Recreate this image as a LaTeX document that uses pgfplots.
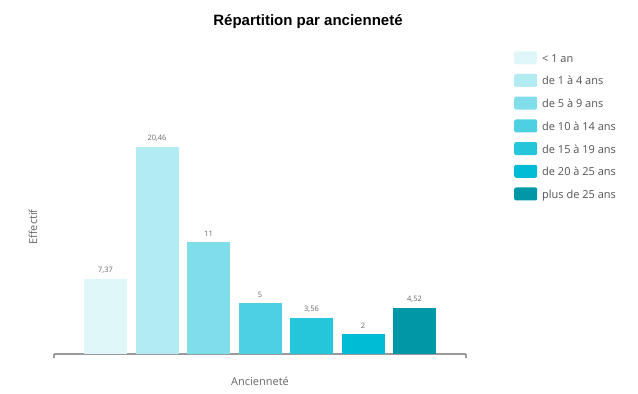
\documentclass[border=0pt]{standalone}
\usepackage{fontspec}
\setmainfont{Open Sans}
\newfontfamily\titlefont{Liberation Sans}
\usepackage{pgfplots}
\pgfplotsset{compat=1.18}
\definecolor{c1}{HTML}{E0F7FA}
\definecolor{c2}{HTML}{B2EBF2}
\definecolor{c3}{HTML}{80DEEA}
\definecolor{c4}{HTML}{4DD0E1}
\definecolor{c5}{HTML}{26C6DA}
\definecolor{c6}{HTML}{00BCD4}
\definecolor{c7}{HTML}{0097A7}
\definecolor{axgray}{HTML}{9A9A9E}
\definecolor{txtgray}{HTML}{666666}
\begin{document}
\begin{tikzpicture}[x=1pt,y=1pt]
\path (0,0) rectangle (638,394);
\node[font=\titlefont\bfseries\fontsize{15}{17}\selectfont, text=black] at (308,372) {Répartition par ancienneté};
\node[font=\fontsize{11}{13}\selectfont, text=txtgray] at (260,13) {Ancienneté};
\node[font=\fontsize{11}{13}\selectfont, text=txtgray, rotate=90] at (33,167) {Effectif};
\begin{axis}[
  at={(54pt,40pt)}, anchor=south west, scale only axis,
  width=412pt, height=220pt,
  xmin=-1, xmax=7, ymin=0, ymax=21.7, enlargelimits=false,
  ybar, bar width=43pt, bar shift=0pt,
  axis x line=bottom, axis y line=none,
  axis line style={-, axgray, line width=1.2pt},
  xtick={-1,7}, xticklabels={}, ytick=\empty,
  tick align=outside, major tick length=4pt,
  major tick style={axgray, line width=1.2pt},
  clip=false,
  nodes near coords={\pgfmathprintnumber[use comma, assume math mode=true]{\pgfplotspointmeta}},
  every node near coord/.append style={font=\fontsize{7.5}{8}\selectfont, text=txtgray, yshift=2pt},
  legend style={at={(1.1165,1.377)}, anchor=north west, draw=none, fill=none, inner sep=0pt,
    font=\fontsize{11}{13}\selectfont, text=txtgray!80!black, row sep=9.7pt,
    nodes={inner xsep=5pt, inner ysep=0pt, text height=8pt, text depth=2pt}},
  legend cell align=left,
  legend image code/.code={\fill[#1, rounded corners=2pt] (0pt,-5pt) rectangle (23pt,8pt);},
]
\addplot[fill=c1, draw=none] coordinates {(0,7.37)};
\addlegendentry{< 1 an}
\addplot[fill=c2, draw=none] coordinates {(1,20.46)};
\addlegendentry{de 1 à 4 ans}
\addplot[fill=c3, draw=none] coordinates {(2,11)};
\addlegendentry{de 5 à 9 ans}
\addplot[fill=c4, draw=none] coordinates {(3,5)};
\addlegendentry{de 10 à 14 ans}
\addplot[fill=c5, draw=none] coordinates {(4,3.56)};
\addlegendentry{de 15 à 19 ans}
\addplot[fill=c6, draw=none] coordinates {(5,2)};
\addlegendentry{de 20 à 25 ans}
\addplot[fill=c7, draw=none] coordinates {(6,4.52)};
\addlegendentry{plus de 25 ans}
\end{axis}
\end{tikzpicture}
\end{document}
